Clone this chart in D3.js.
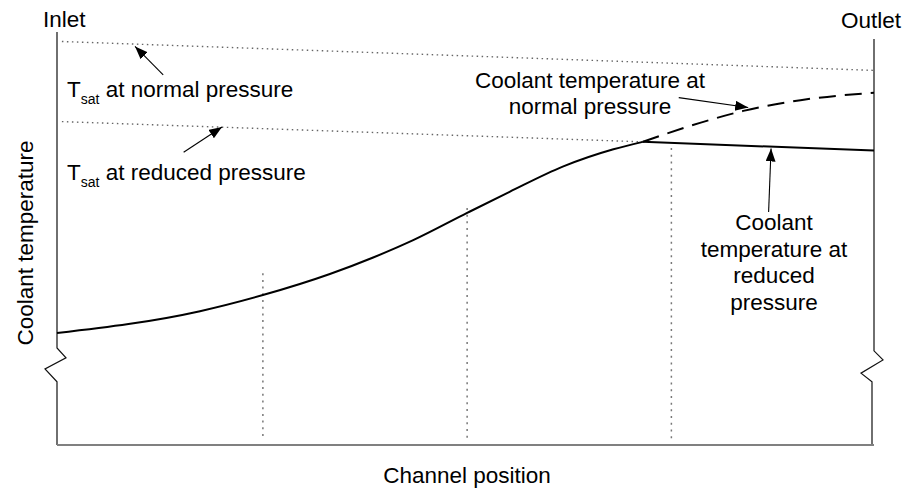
<!DOCTYPE html>
<html>
<head>
<meta charset="utf-8">
<script src="https://cdn.jsdelivr.net/npm/d3@7/dist/d3.min.js"></script>
<style>
    body { margin: 0; background: #fff; }
    text { font-family: Arial, "Liberation Sans", sans-serif; font-size: 22.5px; fill: #000; }
</style>
</head>
<body>
<svg width="907" height="492"></svg>
<script>
// channel position: 0 = inlet, 1 = outlet; temperature in arbitrary units (0..100)
var coolantPos = [0, 0.175, 0.252, 0.334, 0.387, 0.436, 0.502, 0.554, 0.619, 0.681, 0.717];
var coolantTemp = [27.1, 32.4, 36.3, 41.4, 45.4, 49.6, 56.2, 61.3, 67.4, 71.6, 73.4];

var reducedPos = [0.717, 1];
var reducedTemp = [73.4, 71.3];

var normalPos = [0.717, 0.787, 0.840, 0.910, 1];
var normalTemp = [73.4, 78.0, 80.9, 83.5, 85.3];

var tsatNormalPos = [0.006, 1];
var tsatNormalTemp = [97.7, 90.7];
var tsatReducedPos = [0.006, 0.717];
var tsatReducedTemp = [78.3, 73.4];

// vertical dotted guides
var guidePos = [0.252, 0.502, 0.752];
var guideTop = [41.6, 57.4, 71.9];
var guideBottom = [1.7, 1.7, 0.6];

// axis break (zigzag) temperatures
var breakLeft = [23.5, 21.1, 18.4, 15.3];
var breakRight = [22.8, 20.6, 17.4, 15.3];

// annotation arrows: [tailPos, tailTemp, tipPos, tipTemp]
var arrows = [
    [0.130, 89.6, 0.0955, 96.5],
    [0.155, 70.9, 0.202, 77.0],
    [0.761, 84.1, 0.846, 81.7],
    [0.871, 56.4, 0.874, 71.8]
];

var svg = d3.select("svg");
var x = d3.scaleLinear().domain([0, 1]).range([57, 874]);
var y = d3.scaleLinear().domain([0, 100]).range([445, 32]);

function pts(px, py) {
    return px.map(function (d, i) { return [d, py[i]]; });
}

var line = d3.line()
    .x(function (d) { return x(d[0]); })
    .y(function (d) { return y(d[1]); });

var smooth = d3.line()
    .x(function (d) { return x(d[0]); })
    .y(function (d) { return y(d[1]); })
    .curve(d3.curveMonotoneX);

svg.append("defs").append("marker")
    .attr("id", "head")
    .attr("markerUnits", "userSpaceOnUse")
    .attr("markerWidth", 14).attr("markerHeight", 12)
    .attr("refX", 13).attr("refY", 5)
    .attr("orient", "auto")
    .append("path")
    .attr("d", "M0,0 L13,5 L0,10 Z")
    .attr("fill", "#000");

// dotted saturation lines
svg.append("path").attr("d", line(pts(tsatNormalPos, tsatNormalTemp)))
    .attr("fill", "none").attr("stroke", "#666").attr("stroke-width", 1.4)
    .attr("stroke-dasharray", "1.5,3.5");
svg.append("path").attr("d", line(pts(tsatReducedPos, tsatReducedTemp)))
    .attr("fill", "none").attr("stroke", "#666").attr("stroke-width", 1.4)
    .attr("stroke-dasharray", "1.5,3.5");

// vertical guides
svg.selectAll(".guide").data(guidePos).enter().append("line")
    .attr("class", "guide")
    .attr("x1", function (d) { return x(d); })
    .attr("x2", function (d) { return x(d); })
    .attr("y1", function (d, i) { return y(guideTop[i]); })
    .attr("y2", function (d, i) { return y(guideBottom[i]); })
    .attr("stroke", "#777").attr("stroke-width", 1.5)
    .attr("stroke-dasharray", "2,4.7");

// left axis with break
var lx = x(0);
svg.append("path")
    .attr("d", "M" + lx + "," + y(100) + "L" + lx + "," + y(breakLeft[0]) +
        "L" + (lx + 9) + "," + y(breakLeft[1]) +
        "L" + (lx - 12) + "," + y(breakLeft[2]) +
        "L" + lx + "," + y(breakLeft[3]) + "L" + lx + "," + y(0))
    .attr("fill", "none").attr("stroke", "#111").attr("stroke-width", 1.2);

// right axis with break
var rx = x(1);
svg.append("path")
    .attr("d", "M" + rx + "," + y(98.3) + "L" + rx + "," + y(breakRight[0]) +
        "L" + (rx + 9) + "," + y(breakRight[1]) +
        "L" + (rx - 13) + "," + y(breakRight[2]) +
        "L" + (rx - 2) + "," + y(breakRight[3]) + "L" + (rx - 2) + "," + y(0))
    .attr("fill", "none").attr("stroke", "#111").attr("stroke-width", 1.2);

// bottom axis
svg.append("line")
    .attr("x1", x(0)).attr("x2", x(1)).attr("y1", y(0)).attr("y2", y(0))
    .attr("stroke", "#808080").attr("stroke-width", 2);

// coolant curves
svg.append("path").attr("d", smooth(pts(coolantPos, coolantTemp)))
    .attr("fill", "none").attr("stroke", "#000").attr("stroke-width", 2);
svg.append("path").attr("d", line(pts(reducedPos, reducedTemp)))
    .attr("fill", "none").attr("stroke", "#000").attr("stroke-width", 2);
svg.append("path").attr("d", smooth(pts(normalPos, normalTemp)))
    .attr("fill", "none").attr("stroke", "#000").attr("stroke-width", 2)
    .attr("stroke-dasharray", "17,9");

// arrows
svg.selectAll(".arrow").data(arrows).enter().append("line")
    .attr("class", "arrow")
    .attr("x1", function (d) { return x(d[0]); })
    .attr("y1", function (d) { return y(d[1]); })
    .attr("x2", function (d) { return x(d[2]); })
    .attr("y2", function (d) { return y(d[3]); })
    .attr("stroke", "#000").attr("stroke-width", 1.1)
    .attr("marker-end", "url(#head)");

// labels
function tsatLabel(ty, rest) {
    var t = svg.append("text").attr("x", 67).attr("y", ty);
    t.append("tspan").text("T");
    t.append("tspan").attr("dy", 7).style("font-size", "14px").text("sat");
    t.append("tspan").attr("dy", -7).text(" " + rest);
}
tsatLabel(97, "at normal pressure");
tsatLabel(180, "at reduced pressure");

svg.append("text").attr("x", 43).attr("y", 27).text("Inlet");
svg.append("text").attr("x", 841).attr("y", 28).text("Outlet");

var normLines = ["Coolant temperature at", "normal pressure"];
svg.selectAll(".nl").data(normLines).enter().append("text")
    .attr("class", "nl")
    .attr("x", 590).attr("y", function (d, i) { return 88 + i * 25.5; })
    .attr("text-anchor", "middle").text(function (d) { return d; });

var redLines = ["Coolant", "temperature at", "reduced", "pressure"];
svg.selectAll(".rl").data(redLines).enter().append("text")
    .attr("class", "rl")
    .attr("x", 774).attr("y", function (d, i) { return 230 + i * 26.6; })
    .attr("text-anchor", "middle").text(function (d) { return d; });

svg.append("text")
    .attr("transform", "translate(33,243) rotate(-90)")
    .attr("text-anchor", "middle").text("Coolant temperature");

svg.append("text").attr("x", 467).attr("y", 483)
    .attr("text-anchor", "middle").text("Channel position");
</script>
</body>
</html>
